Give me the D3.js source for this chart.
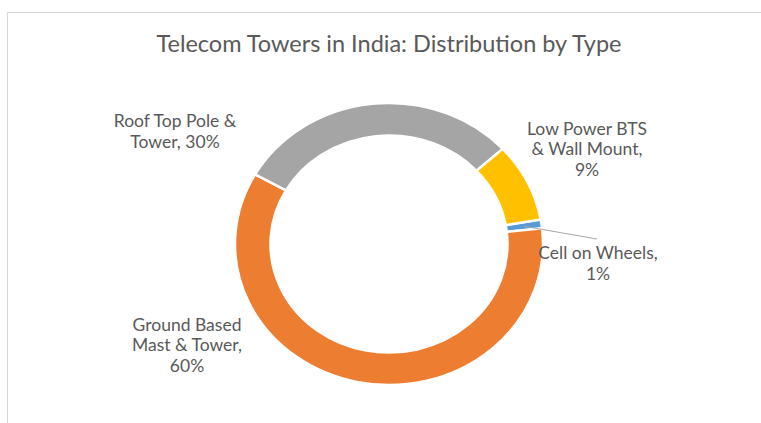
<!DOCTYPE html>
<html>
<head>
<meta charset="utf-8">
<script src="https://cdn.jsdelivr.net/npm/d3@7"></script>
<style>
  body { margin: 0; background: #fff; }
  text { font-family: Lato, "Open Sans", sans-serif; fill: #595959; }
</style>
</head>
<body>
<div id="viz"></div>
<script>
const width = 761;
const height = 423;

// data, in Excel series order
const categories = ['Cell on Wheels', 'Ground Based Mast & Tower', 'Roof Top Pole & Tower', 'Low Power BTS & Wall Mount'];
const shares = [1, 60, 30, 9];
const labelLines = [
  ['Cell on Wheels,', '1%'],
  ['Ground Based', 'Mast & Tower,', '60%'],
  ['Roof Top Pole &', 'Tower, 30%'],
  ['Low Power BTS', '& Wall Mount,', '9%']
];
const colors = ['#5b9bd5', '#ed7d31', '#a5a5a5', '#ffc000'];
const title = 'Telecom Towers in India: Distribution by Type';

// layout
const cx = 389, cy = 244;
const outerR = 154, innerR = 118.5;
const squash = 0.916;           // picture is a bit flatter than round
const firstAngle = 80;          // degrees, clockwise from 12 o'clock
const lineHeight = 20.5;
// label block centres relative to donut centre
const labelAt = [[209, 19], [-202, 101], [-214, -113], [198, -95]];

const svg = d3.select('#viz')
  .append('svg')
    .attr('width', width)
    .attr('height', height);

// chart area border (runs off the right and bottom)
svg.append('rect')
  .attr('x', 7.5)
  .attr('y', 12.5)
  .attr('width', 760)
  .attr('height', 420)
  .attr('fill', 'none')
  .attr('stroke', '#d9d9d9')
  .attr('stroke-width', 1);

svg.append('text')
  .attr('x', cx)
  .attr('y', 52)
  .attr('text-anchor', 'middle')
  .attr('font-size', 23.5)
  .text(title);

const pie = d3.pie()
  .sort(null)
  .value(d => d)
  .startAngle(firstAngle * Math.PI / 180)
  .endAngle((firstAngle + 360) * Math.PI / 180);

const arcs = pie(shares);

const arc = d3.arc()
  .innerRadius(innerR)
  .outerRadius(outerR);

const donut = svg.append('g')
  .attr('transform', `translate(${cx}, ${cy}) scale(1, ${squash})`);

donut.selectAll('path')
  .data(arcs)
  .join('path')
  .attr('d', arc)
  .attr('fill', (d, i) => colors[i])
  .attr('stroke', '#fff')
  .attr('stroke-width', 2.5)
  .attr('vector-effect', 'non-scaling-stroke');

// leader line for the tiny slice
const midR = (innerR + outerR) / 2;
const c0 = d3.arc().innerRadius(midR).outerRadius(midR).centroid(arcs[0]);
const lab0 = labelAt[0];
svg.append('line')
  .attr('x1', cx + c0[0])
  .attr('y1', cy + c0[1] * squash)
  .attr('x2', cx + lab0[0] - 1)
  .attr('y2', cy + lab0[1] - 24)
  .attr('stroke', '#a6a6a6')
  .attr('stroke-width', 1);

const labels = svg.append('g')
  .selectAll('text')
  .data(labelLines)
  .join('text')
  .attr('text-anchor', 'middle')
  .attr('font-size', 17.5)
  .attr('transform', (d, i) => {
    const [dx, dy] = labelAt[i];
    const top = dy - (d.length - 1) * lineHeight / 2 + 6.3;
    return `translate(${cx + dx}, ${cy + top})`;
  });

labels.selectAll('tspan')
  .data(d => d)
  .join('tspan')
  .attr('x', 0)
  .attr('y', (d, j) => j * lineHeight)
  .text(d => d);
</script>
</body>
</html>
